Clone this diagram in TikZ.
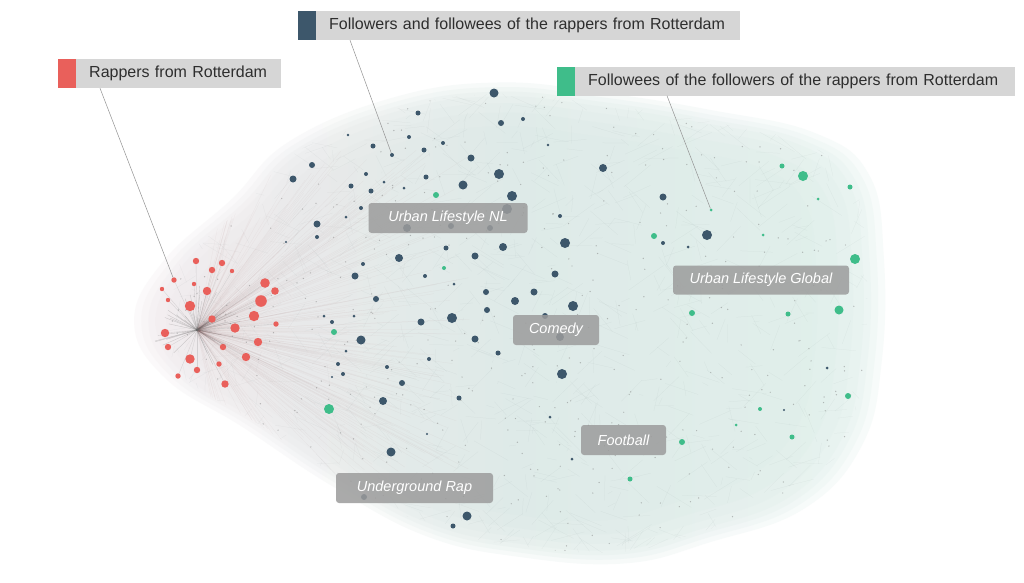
\documentclass[tikz,border=0pt]{standalone}
\usepackage{fontspec}
\setmainfont{Liberation Sans}
\usetikzlibrary{calc}
\definecolor{redc}{HTML}{E9605B}
\definecolor{darkc}{HTML}{3D576B}
\definecolor{greenc}{HTML}{3FBD8A}
\definecolor{legfill}{HTML}{D6D6D6}
\definecolor{labfill}{HTML}{9C9C9C}
\definecolor{txt}{HTML}{2E2E2E}
\definecolor{hazeL}{HTML}{EDE5E7}
\definecolor{hazeM}{HTML}{D7E6E4}
\definecolor{hazeR}{HTML}{DAEDE7}
\definecolor{meshc}{HTML}{6F8282}
\def\blob{plot[smooth cycle, tension=0.7] coordinates {(152,322) (180,264) (245,205) (300,150) (400,108) (500,94) (600,104) (700,120) (800,142) (852,182) (866,260) (864,360) (845,440) (790,500) (700,532) (620,552) (520,546) (430,526) (340,478) (255,422) (182,376)}}
\begin{document}
\begin{tikzpicture}[x=1pt,y=-1pt,
  dot/.style={circle, inner sep=0pt, draw=none},
  rdot/.style={dot, fill=redc},
  ddot/.style={dot, fill=darkc},
  gdot/.style={dot, fill=greenc},
  legbox/.style={fill=legfill, anchor=west, minimum height=29pt, inner xsep=13pt, inner ysep=0pt, text=txt, font=\fontsize{16}{18}\selectfont, align=left},
  legsq/.style={anchor=east, minimum width=18pt, minimum height=29pt, inner sep=0pt},
  clabel/.style={fill=labfill, fill opacity=0.85, text opacity=1, text=white, rounded corners=3pt, font=\fontsize{14.5}{16}\selectfont\itshape, minimum height=30pt, inner sep=0pt},
  leader/.style={draw=gray!85, line width=0.5pt},
  mesh/.style={draw=meshc, line width=0.25pt, opacity=0.09},
  fan/.style={draw=gray!80!red, line width=0.25pt, opacity=0.07},
  spoke/.style={draw=black!60, line width=0.35pt, opacity=0.3}]
\useasboundingbox (0,0) rectangle (1024,582);
\fill[white] (0,0) rectangle (1024,582);
% soft haze: stacked layers
\foreach \s in {1.05,1.03,1.01,0.99,0.96,0.92,0.86}{
  \begin{scope}[shift={(510,325)}, scale=\s, shift={(-510,-325)}]
    \shade[left color=hazeL, right color=hazeR, middle color=hazeM, opacity=0.2] \blob;
  \end{scope}
}
\coordinate (hub) at (197,330);
\begin{scope}
\clip \blob;
\pgfmathsetseed{7}
\foreach \i in {1,...,1100}{
  \pgfmathsetmacro\ax{160+710*rnd}
  \pgfmathsetmacro\ay{90+465*rnd}
  \pgfmathsetmacro\bx{\ax+(rnd-0.5)*70}
  \pgfmathsetmacro\by{\ay+(rnd-0.5)*50}
  \draw[mesh] (\ax,\ay) -- (\bx,\by);
}
\foreach \i in {1,...,260}{
  \pgfmathsetmacro\tx{210+260*rnd}
  \pgfmathsetmacro\ty{150+330*rnd}
  \draw[fan] (hub) -- (\tx,\ty);
}
\foreach \i in {1,...,480}{
  \pgfmathsetmacro\ax{160+710*rnd}
  \pgfmathsetmacro\ay{90+465*rnd}
  \fill[black!55, opacity=0.45] (\ax,\ay) circle (0.7);
}
\end{scope}
% hub spokes
\pgfmathsetseed{3}
\foreach \i in {1,...,40}{
  \pgfmathsetmacro\ang{360*rnd}
  \pgfmathsetmacro\len{10+35*rnd}
  \draw[spoke] (hub) -- ++(\ang:\len);
}
% red dots
\foreach \x/\y/\r [count=\i] in {196/261/3.2, 222/263/3.2, 212/270/3.2, 232/271/2.2, 174/280/2.7, 194/284/2.2, 265/283/4.8, 275/291/3.8, 162/289/2.2, 207/291/4.2, 168/300/2.2, 261/301/5.8, 190/306/5.2, 254/316/5.2, 276/324/2.7, 212/319/3.7, 235/328/4.7, 165/333/4.2, 258/342/4.2, 168/347/3.2, 223/347/3.2, 190/359/4.7, 246/357/4.2, 219/364/2.7, 197/370/3.2, 178/376/2.7, 225/384/3.7}{
  \draw[spoke, opacity=0.2] (hub) -- (\x,\y);
  \node[rdot, minimum size=2*\r] (r\i) at (\x,\y) {};
}
% dark dots
\foreach \x/\y/\r [count=\i] in {494/93/4.5, 418/113/2.5, 501/123/3, 523/119/2, 348/135/1.3, 409/137/2, 443/143/2, 373/146/2.5, 392/155/2, 424/150/2.5, 471/158/3.5, 312/165/3, 499/174/5, 293/179/3.5, 366/174/2, 426/177/2.5, 351/186/2.5, 384/182/1.5, 463/185/4.5, 371/191/2.5, 404/188/1.5, 512/196/5, 560/216/2, 361/208/2, 317/224/3.5, 346/217/1.5, 317/237/2, 565/243/5, 446/248/2.5, 503/247/4, 475/256/3.5, 399/258/4, 363/264/2, 355/276/3.5, 555/274/3.5, 286/242/1.2, 603/168/4, 663/197/3.5, 663/243/2, 707/235/5, 688/247/1.5, 425/276/2, 454/284/1.5, 376/299/3, 486/292/3, 515/301/4, 534/292/3.5, 573/306/5, 487/310/3, 452/318/5, 421/322/3.5, 324/316/1.5, 332/322/2, 354/316/1.5, 361/340/4.5, 475/339/3.5, 498/353/2.5, 346/351/1.5, 429/359/2, 387/367/2, 338/364/2, 343/374/2, 402/383/3, 562/374/5, 383/401/4, 459/398/2.5, 550/417/1.5, 427/434/1.2, 572/459/1.5, 391/452/4.5, 467/516/4.5, 453/526/2.5, 827/368/1.5, 784/410/1.2, 332/377/1.2, 548/145/1.3, 407/228/4, 451/226/3, 490/228/3, 507/209/5, 545/316/3, 560/337/4, 364/497/3}{
  \node[ddot, minimum size=2*\r] (d\i) at (\x,\y) {};
}
% green dots
\foreach \x/\y/\r [count=\i] in {436/195/3, 444/268/2, 334/332/3, 329/409/5, 782/166/2.5, 803/176/5, 850/187/2.5, 818/199/1.5, 711/210/1.5, 654/236/3, 763/235/1.5, 855/259/5, 692/313/3, 788/314/2.5, 839/310/4.5, 848/396/3, 760/409/2, 736/425/1.5, 792/437/2.5, 682/442/3, 630/479/2.5}{
  \node[gdot, minimum size=2*\r] (g\i) at (\x,\y) {};
}
% cluster labels
\node[clabel, minimum width=159pt] (lnl) at (448,218) {Urban Lifestyle NL};
\node[clabel, minimum width=176pt, minimum height=29pt] (lgl) at (761,280) {Urban Lifestyle Global};
\node[clabel, minimum width=86pt] (lco) at (556,330) {Comedy};
\node[clabel, minimum width=85pt] (lfo) at (623.5,440) {Football};
\node[clabel, minimum width=157pt] (lur) at (414.5,488) {Underground Rap};
% legends
\node[legbox, text width=179pt] (legR) at (76,73.5) {Rappers from Rotterdam};
\node[legsq, fill=redc] (sqR) at (legR.west) {};
\node[legbox, text width=398pt] (legD) at (316,25.5) {Followers and followees of the rappers from Rotterdam};
\node[legsq, fill=darkc] (sqD) at (legD.west) {};
\node[legbox, text width=414pt] (legG) at (575,81) {Followees of the followers of the rappers from Rotterdam};
\node[legsq, fill=greenc] (sqG) at (legG.west) {};
% leaders
\draw[leader] ([xshift=24pt]legR.south west) -- (r5);
\draw[leader] ([xshift=34pt]legD.south west) -- (d9);
\draw[leader] ([xshift=92pt]legG.south west) -- (g9);
\end{tikzpicture}
\end{document}
